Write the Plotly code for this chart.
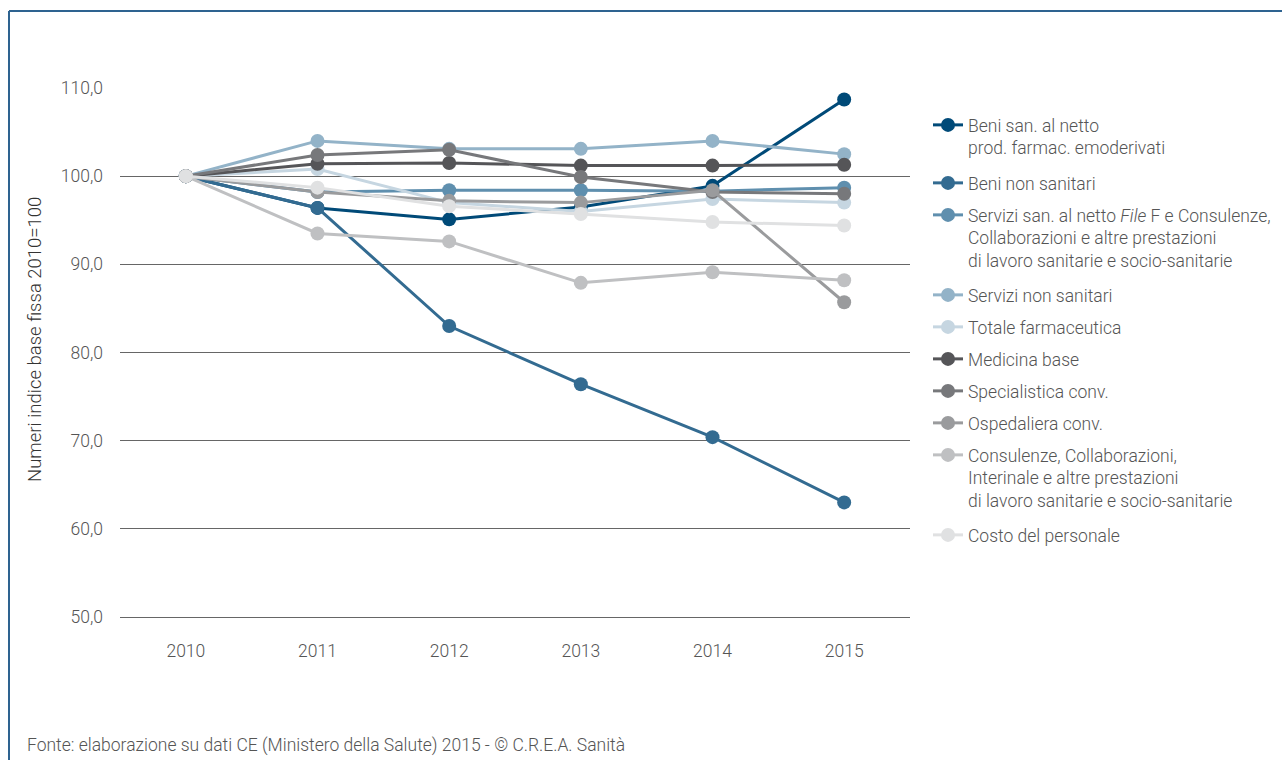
import plotly.graph_objects as go

years = ["2010", "2011", "2012", "2013", "2014", "2015"]

series_names = [
    "Beni san. al netto<br>prod. farmac. emoderivati",
    "Beni non sanitari",
    "Servizi san. al netto <i>File</i> F e Consulenze,<br>Collaborazioni e altre prestazioni<br>di lavoro sanitarie e socio-sanitarie",
    "Servizi non sanitari",
    "Totale farmaceutica",
    "Medicina base",
    "Specialistica conv.",
    "Ospedaliera conv.",
    "Consulenze, Collaborazioni,<br>Interinale e altre prestazioni<br>di lavoro sanitarie e socio-sanitarie",
    "Costo del personale",
]

beni_san = [100, 96.4, 95.1, 96.5, 98.9, 108.7]
beni_non_san = [100, 96.4, 83.0, 76.4, 70.4, 63.0]
servizi_san = [100, 98.2, 98.4, 98.4, 98.3, 98.7]
servizi_non_san = [100, 104.0, 103.1, 103.1, 104.0, 102.5]
totale_farm = [100, 100.8, 97.0, 96.0, 97.4, 97.0]
medicina_base = [100, 101.4, 101.5, 101.2, 101.2, 101.3]
specialistica = [100, 102.4, 103.0, 99.9, 98.2, 98.0]
ospedaliera = [100, 98.2, 97.2, 97.0, 98.4, 85.7]
consulenze = [100, 93.5, 92.6, 87.9, 89.1, 88.2]
costo_personale = [100, 98.7, 96.6, 95.7, 94.8, 94.4]

series_values = [beni_san, beni_non_san, servizi_san, servizi_non_san, totale_farm,
                 medicina_base, specialistica, ospedaliera, consulenze, costo_personale]

colors = ["#004a78", "#336b91", "#5f8fae", "#93b3c8", "#c6d6e1",
          "#555558", "#77787b", "#9a9b9d", "#bfc0c2", "#e0e1e2"]

y_ticks = [50, 60, 70, 80, 90, 100, 110]
y_tick_labels = ["50,0", "60,0", "70,0", "80,0", "90,0", "100,0", "110,0"]

# pixel row of the first text line of each legend entry
legend_rows = [125, 183, 215, 295, 327, 359, 391, 423, 455, 535]

FONT = "Roboto, sans-serif"
TXT = "#555555"
FS = 17.5

L, R, T, B = 120, 910, 88, 617
W, H = 1282, 760

def px(xp):
    return (xp - L) / (R - L)

def py(yp):
    return (B - yp) / (B - T)

fig = go.Figure()
legend_layouts = {}
for i, (name, vals, col, row) in enumerate(zip(series_names, series_values, colors, legend_rows)):
    lid = "legend" if i == 0 else f"legend{i + 1}"
    fig.add_trace(go.Scatter(
        x=years, y=vals, name=name, mode="lines+markers",
        line=dict(color=col, width=3),
        marker=dict(color=col, size=14),
        cliponaxis=False,
        legend=lid,
    ))
    legend_layouts[lid] = dict(
        x=px(928), y=py(row - 18), xanchor="left", yanchor="top",
        valign="top", itemwidth=30,
        font=dict(family=FONT, size=FS, color=TXT, weight=300),
        bgcolor="rgba(0,0,0,0)",
    )

fig.update_layout(
    width=W, height=H,
    margin=dict(l=L, r=W - R, t=T, b=H - B, pad=0, autoexpand=False),
    paper_bgcolor="white", plot_bgcolor="white",
    font=dict(family=FONT, color=TXT, size=FS, weight=300),
    showlegend=True,
    xaxis=dict(
        type="category", range=[-0.5, 5.5], showgrid=False,
        showline=True, linecolor="#666666", linewidth=1,
        zeroline=False, ticks="", tickfont=dict(size=FS, color=TXT, weight=300),
        ticklabelstandoff=18,
    ),
    yaxis=dict(
        range=[50, 110], tickvals=y_ticks, ticktext=y_tick_labels,
        showgrid=True, gridcolor="#666666", gridwidth=1, zeroline=False,
        showline=False, ticks="", tickfont=dict(size=FS, color=TXT, weight=300),
        ticklabelstandoff=16,
    ),
    shapes=[
        dict(type="line", xref="paper", yref="paper", x0=px(9), x1=px(9), y0=py(760), y1=py(11),
             line=dict(color="#2e6390", width=2)),
        dict(type="line", xref="paper", yref="paper", x0=px(9), x1=px(1282), y0=py(11), y1=py(11),
             line=dict(color="#2e6390", width=2)),
    ],
    annotations=[
        dict(text="Numeri indice base fissa 2010=100", textangle=-90,
             xref="paper", yref="paper", x=px(35), y=py(340), xanchor="center", yanchor="middle",
             showarrow=False, font=dict(size=18.5, color="#333333", family=FONT, weight=300)),
        dict(text="Fonte: elaborazione su dati CE (Ministero della Salute) 2015 - © C.R.E.A. Sanità",
             xref="paper", yref="paper", x=px(25), y=py(745), xanchor="left", yanchor="middle",
             showarrow=False, font=dict(size=FS, color=TXT, family=FONT, weight=300)),
    ],
    **legend_layouts,
)

fig.write_html("out.html")
